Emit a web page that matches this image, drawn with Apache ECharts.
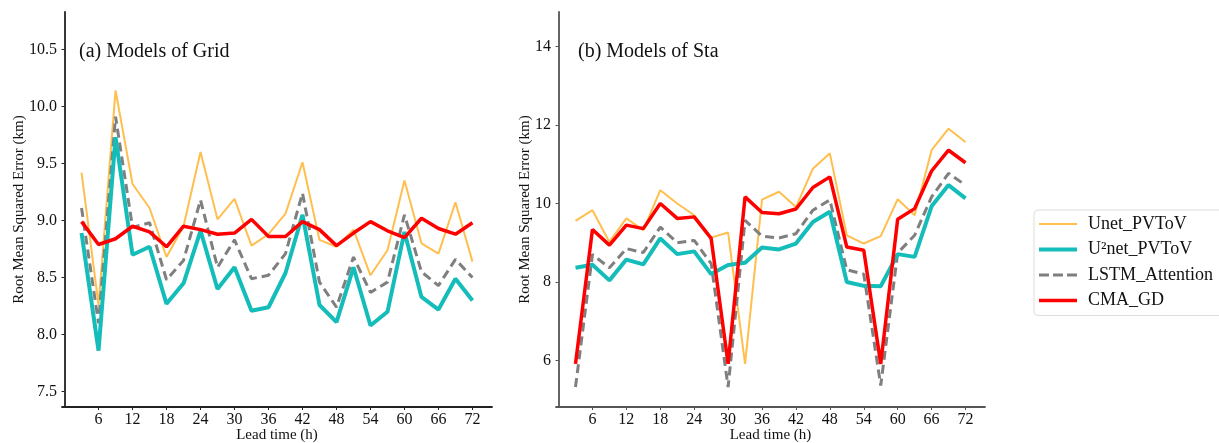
<!DOCTYPE html>
<html>
<head>
<meta charset="utf-8">
<script src="https://cdn.jsdelivr.net/npm/echarts@6/dist/echarts.min.js"></script>
<style>
  html, body { margin: 0; padding: 0; background: #fff; }
  #main { width: 1219px; height: 443px; }
</style>
</head>
<body>
<div id="main"></div>
<script>
// lead times (h)
var leadTime = [3, 6, 9, 12, 15, 18, 21, 24, 27, 30, 33, 36, 39, 42, 45, 48, 51, 54, 57, 60, 63, 66, 69, 72];
var xTicks = [6, 12, 18, 24, 30, 36, 42, 48, 54, 60, 66, 72];
var yTicksGrid = [7.5, 8.0, 8.5, 9.0, 9.5, 10.0, 10.5];
var yTicksSta = [6, 8, 10, 12, 14];

var seriesNames = ['Unet_PVToV', 'U\u00b2net_PVToV', 'LSTM_Attention', 'CMA_GD'];

// (a) Models of Grid
var gridUnet = [9.42, 8.26, 10.14, 9.32, 9.11, 8.68, 8.95, 9.60, 9.01, 9.19, 8.78, 8.88, 9.06, 9.51, 8.83, 8.77, 8.92, 8.52, 8.74, 9.35, 8.80, 8.71, 9.16, 8.64];
var gridU2net = [8.89, 7.86, 9.73, 8.70, 8.77, 8.27, 8.45, 8.91, 8.40, 8.59, 8.21, 8.24, 8.54, 9.05, 8.26, 8.11, 8.59, 8.08, 8.20, 8.90, 8.33, 8.22, 8.49, 8.30];
var gridLstm = [9.11, 8.10, 9.91, 8.94, 8.98, 8.48, 8.65, 9.18, 8.59, 8.83, 8.49, 8.52, 8.71, 9.24, 8.46, 8.24, 8.68, 8.37, 8.46, 9.05, 8.55, 8.43, 8.66, 8.50];
var gridCma = [8.99, 8.79, 8.84, 8.95, 8.90, 8.77, 8.95, 8.92, 8.88, 8.89, 9.01, 8.86, 8.86, 8.99, 8.92, 8.78, 8.89, 8.99, 8.91, 8.85, 9.02, 8.93, 8.88, 8.98];

// (b) Models of Sta
var staUnet = [9.56, 9.83, 9.02, 9.62, 9.32, 10.34, 10.00, 9.70, 9.13, 9.26, 5.91, 10.10, 10.30, 9.91, 10.89, 11.28, 9.19, 8.98, 9.17, 10.11, 9.70, 11.36, 11.91, 11.57];
var staU2net = [8.36, 8.44, 8.04, 8.57, 8.45, 9.11, 8.71, 8.78, 8.20, 8.43, 8.49, 8.88, 8.83, 8.98, 9.53, 9.79, 8.00, 7.90, 7.89, 8.71, 8.64, 9.93, 10.47, 10.13];
var staLstm = [5.32, 8.70, 8.36, 8.85, 8.75, 9.40, 9.00, 9.06, 8.47, 5.32, 9.57, 9.17, 9.12, 9.23, 9.83, 10.09, 8.31, 8.20, 5.36, 8.74, 9.19, 10.17, 10.77, 10.47];
var staCma = [5.91, 9.34, 8.94, 9.45, 9.36, 10.00, 9.62, 9.66, 9.11, 5.91, 10.17, 9.77, 9.74, 9.86, 10.41, 10.68, 8.89, 8.81, 5.91, 9.60, 9.87, 10.83, 11.36, 11.04];

var font = '"Liberation Serif", "DejaVu Serif", serif';

function pairs(vals) {
    return leadTime.map(function(h, i) { return [h, vals[i]]; });
}

var styles = [
    { color: '#ffbf4f', width: 2, type: 'solid' },
    { color: '#14bdb9', width: 4, type: 'solid' },
    { color: '#7f7f7f', width: 3, type: [9, 5] },
    { color: '#ff0000', width: 3.5, type: 'solid' }
];

// legend samples: plain bars, dashed one drawn as three pieces
var legendIcons = [
    'path://M0,0H38V2H0Z',
    'path://M0,0H38V4H0Z',
    'path://M0,0H10V3H0Z M14,0H24V3H14Z M28,0H38V3H28Z',
    'path://M0,0H38V3.5H0Z'
];

function makeSeries(idx, sets) {
    return sets.map(function(vals, k) {
        return {
            name: seriesNames[k],
            type: 'line',
            xAxisIndex: idx,
            yAxisIndex: idx,
            symbol: 'none',
            z: k == 3 ? 5 : (k == 1 ? 3 : 2),
            lineStyle: styles[k],
            itemStyle: { color: styles[k].color },
            data: pairs(vals)
        };
    });
}

function xAxisOf(idx, axisColor) {
    return {
        type: 'value',
        gridIndex: idx,
        min: -0.45,
        max: 75.45,
        name: 'Lead time (h)',
        nameLocation: 'middle',
        nameGap: 21,
        nameMoveOverlap: false,
        nameTextStyle: { fontFamily: font, fontSize: 15, color: '#111' },
        axisLine: { lineStyle: { color: axisColor, width: 1.8 } },
        axisTick: { customValues: xTicks, length: 3, lineStyle: { color: axisColor } },
        axisLabel: { customValues: xTicks, margin: 5, fontFamily: font, fontSize: 16, color: '#111' },
        splitLine: { show: false }
    };
}

function yAxisOf(idx, axisColor, min, max, ticks, gap, fmt) {
    return {
        type: 'value',
        gridIndex: idx,
        min: min,
        max: max,
        name: 'Root Mean Squared Error (km)',
        nameLocation: 'middle',
        nameGap: gap,
        nameMoveOverlap: false,
        nameTextStyle: { fontFamily: font, fontSize: 15, color: '#111' },
        axisLine: { show: true, lineStyle: { color: axisColor, width: 1.8 } },
        axisTick: { show: true, customValues: ticks, length: 3, lineStyle: { color: axisColor } },
        axisLabel: { customValues: ticks, margin: 5, fontFamily: font, fontSize: 16, color: '#111', formatter: fmt },
        splitLine: { show: false }
    };
}

var myChart = echarts.init(document.getElementById('main'));
myChart.setOption({
    animation: false,
    backgroundColor: '#fff',
    title: [{
        text: '(a) Models of Grid',
        left: 79,
        top: 42,
        padding: 0,
        textStyle: { fontFamily: font, fontSize: 20, fontWeight: 'normal', color: '#111' }
    }, {
        text: '(b) Models of Sta',
        left: 578,
        top: 42,
        padding: 0,
        textStyle: { fontFamily: font, fontSize: 20, fontWeight: 'normal', color: '#111' }
    }],
    legend: {
        data: seriesNames.map(function(n, k) { return { name: n, icon: legendIcons[k] }; }),
        orient: 'vertical',
        left: 1034,
        top: 210,
        padding: [5, 20, 6, 5],
        itemWidth: 38,
        itemHeight: 14,
        itemGap: 7.5,
        borderColor: '#dddddd',
        borderWidth: 1,
        borderRadius: 4,
        textStyle: { fontFamily: font, fontSize: 18, color: '#111', padding: [0, 0, 0, 6] }
    },
    grid: [
        { left: 62, top: 12, width: 430, height: 395, containLabel: false, outerBoundsMode: 'none' },
        { left: 556, top: 12, width: 429, height: 395, containLabel: false, outerBoundsMode: 'none' }
    ],
    xAxis: [xAxisOf(0, '#222'), xAxisOf(1, '#555')],
    yAxis: [
        yAxisOf(0, '#222', 7.366, 10.827, yTicksGrid, 35, function(v) { return v.toFixed(1); }),
        yAxisOf(1, '#555', 4.81, 14.886, yTicksSta, 23, function(v) { return String(v); })
    ],
    series: makeSeries(0, [gridUnet, gridU2net, gridLstm, gridCma])
        .concat(makeSeries(1, [staUnet, staU2net, staLstm, staCma]))
});
</script>
</body>
</html>
